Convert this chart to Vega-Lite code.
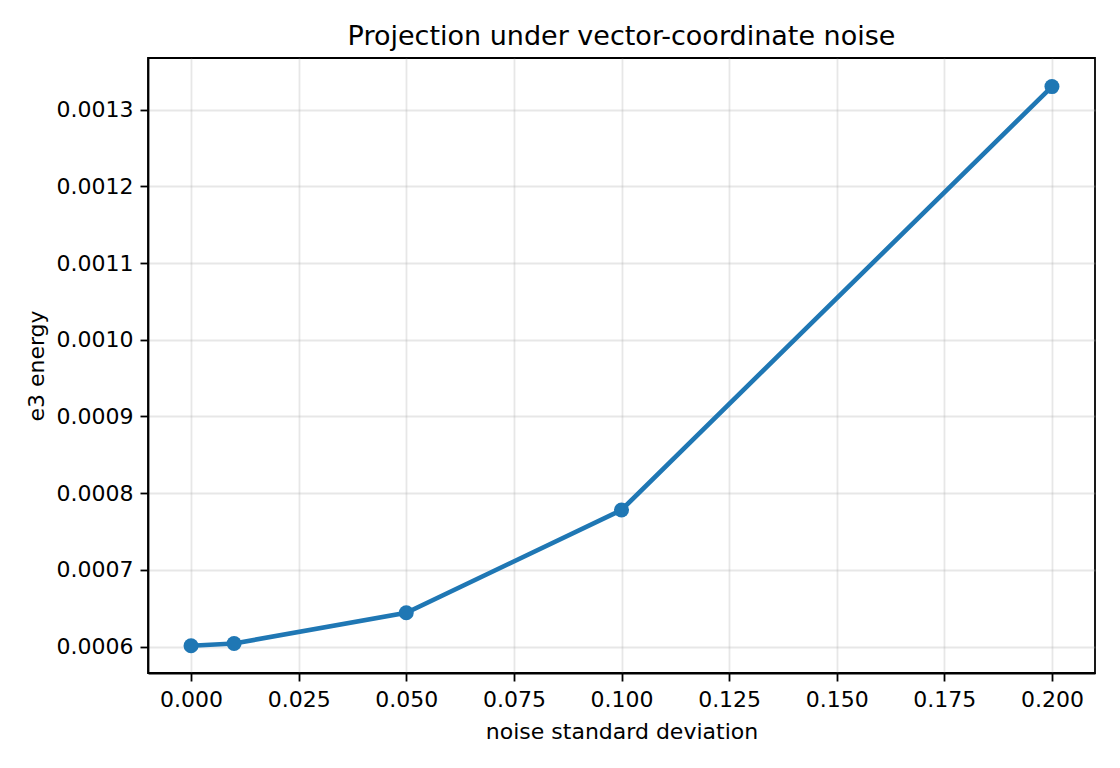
{
  "$schema": "https://vega.github.io/schema/vega-lite/v6.json",
  "autosize": "none",
  "width": 947,
  "height": 615,
  "padding": {"left": 148, "top": 58, "right": 25, "bottom": 95},
  "background": "white",
  "title": {
    "text": "Projection under vector-coordinate noise",
    "fontSize": 27,
    "fontWeight": "normal",
    "font": "DejaVu Sans",
    "color": "black",
    "anchor": "middle",
    "baseline": "alphabetic",
    "offset": -14
  },
  "data": {
    "values": [
      {"noise": 0.0, "energy": 0.000601},
      {"noise": 0.01, "energy": 0.000604},
      {"noise": 0.05, "energy": 0.000644},
      {"noise": 0.1, "energy": 0.000778},
      {"noise": 0.2, "energy": 0.00133}
    ]
  },
  "encoding": {
    "x": {
      "field": "noise",
      "type": "quantitative",
      "title": "noise standard deviation",
      "scale": {"domain": [-0.01, 0.21], "nice": false, "zero": false},
      "axis": {
        "values": [0, 0.025, 0.05, 0.075, 0.1, 0.125, 0.15, 0.175, 0.2],
        "format": ".3f",
        "labelBaseline": "alphabetic",
        "labelPadding": 25,
        "titleY": 65,
        "titleBaseline": "alphabetic"
      }
    },
    "y": {
      "field": "energy",
      "type": "quantitative",
      "title": "e3 energy",
      "scale": {"domain": [0.0005655, 0.0013673], "nice": false, "zero": false},
      "axis": {
        "values": [0.0006, 0.0007, 0.0008, 0.0009, 0.001, 0.0011, 0.0012, 0.0013],
        "format": ".4f",
        "labelPadding": 7,
        "titleX": -100,
        "titleBaseline": "bottom"
      }
    }
  },
  "layer": [
    {"mark": {"type": "line", "color": "#1f77b4", "strokeWidth": 4.6}},
    {"mark": {"type": "point", "shape": "circle", "filled": true, "opacity": 1, "color": "#1f77b4", "size": 225}}
  ],
  "config": {
    "font": "DejaVu Sans",
    "view": {"stroke": "black", "strokeWidth": 1.8},
    "axis": {
      "domainColor": "black",
      "domainWidth": 1.8,
      "tickColor": "black",
      "tickWidth": 1.8,
      "tickSize": 8,
      "labelFont": "DejaVu Sans",
      "labelFontSize": 22,
      "labelColor": "black",
      "labelFlush": false,
      "labelOverlap": false,
      "titleFont": "DejaVu Sans",
      "titleFontSize": 22,
      "titleFontWeight": "normal",
      "titleColor": "black",
      "grid": true,
      "gridColor": "#b0b0b0",
      "gridOpacity": 0.3,
      "gridWidth": 1.8
    }
  }
}
